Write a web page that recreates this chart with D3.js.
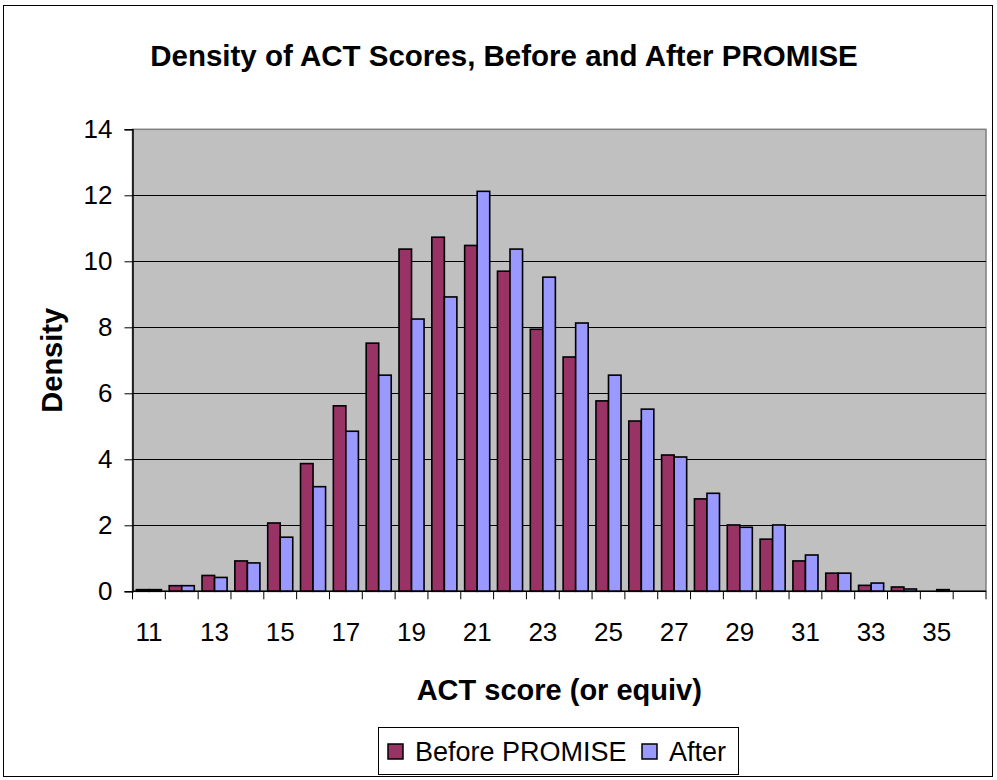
<!DOCTYPE html>
<html>
<head>
<meta charset="utf-8">
<script src="https://cdn.jsdelivr.net/npm/d3@7"></script>
<style>
  body { margin: 0; background: #fff; }
  text { font-family: Arial, "Liberation Sans", sans-serif; fill: #000; }
</style>
</head>
<body>
<svg id="chart" width="997" height="780"></svg>
<script>
// ACT scores 11..36
var scores = d3.range(11, 37);
var tickLabels = [11, 13, 15, 17, 19, 21, 23, 25, 27, 29, 31, 33, 35];
var seriesNames = ["Before PROMISE", "After"];
var before = [0.05, 0.17, 0.48, 0.92, 2.07, 3.87, 5.62, 7.52, 10.37, 10.73, 10.48, 9.70, 7.94, 7.10,
              5.77, 5.16, 4.13, 2.80, 2.01, 1.58, 0.92, 0.55, 0.18, 0.13, 0.0, 0.0];
var after  = [0.05, 0.17, 0.42, 0.86, 1.64, 3.17, 4.85, 6.55, 8.25, 8.92, 12.12, 10.37, 9.52, 8.13,
              6.55, 5.52, 4.07, 2.97, 1.94, 2.01, 1.10, 0.55, 0.25, 0.07, 0.05, 0.0];
var colors = ["#993366", "#9999FF"];

var svg = d3.select("#chart");
var plotL = 132.5, plotR = 986, plotT = 129.3, plotB = 591.3;

// outer chart border
svg.append("rect")
    .attr("x", 3.5).attr("y", 5.5)
    .attr("width", 989).attr("height", 771)
    .style("fill", "#fff").style("stroke", "#000").style("stroke-width", 1);

var x = d3.scaleBand().domain(scores).range([plotL, plotR]).paddingInner(0).paddingOuter(0);
var inner = d3.scaleBand().domain([0, 1]).range([0, x.bandwidth()]).paddingInner(0).paddingOuter(0.31);
var y = d3.scaleLinear().domain([0, 14]).range([plotB, plotT]);

// plot area
svg.append("rect")
    .attr("x", plotL).attr("y", plotT)
    .attr("width", plotR - plotL).attr("height", plotB - plotT)
    .style("fill", "#C0C0C0").style("stroke", "#808080").style("stroke-width", 1.5);

// gridlines
svg.append("g").selectAll("line")
    .data(d3.range(2, 14, 2))
    .join("line")
    .attr("x1", plotL).attr("x2", plotR)
    .attr("y1", function (d) { return Math.round(y(d)) + 0.5; })
    .attr("y2", function (d) { return Math.round(y(d)) + 0.5; })
    .style("stroke", "#000").style("stroke-width", 1);

// bars
var rows = scores.map(function (s, i) { return { score: s, vals: [before[i], after[i]] }; });
var groups = svg.append("g").selectAll("g")
    .data(rows)
    .join("g")
    .attr("transform", function (d) { return "translate(" + x(d.score) + ",0)"; });

groups.selectAll("rect")
    .data(function (d) {
        return d.vals.map(function (v, k) { return { k: k, v: v }; })
            .filter(function (e) { return e.v > 0; });
    })
    .join("rect")
    .attr("x", function (d) { return inner(d.k); })
    .attr("width", inner.bandwidth())
    .attr("y", function (d) { return y(d.v); })
    .attr("height", function (d) { return y(0) - y(d.v); })
    .style("fill", function (d) { return colors[d.k]; })
    .style("stroke", "#000").style("stroke-width", 1.6);

// y axis
var yAxis = svg.append("g")
    .attr("transform", "translate(" + plotL + ",0)")
    .call(d3.axisLeft(y).tickValues(d3.range(0, 15, 2)).tickSize(8).tickPadding(12));
yAxis.select(".domain").style("stroke", "#000").style("stroke-width", 1.5);
yAxis.selectAll(".tick line").style("stroke", "#000");
yAxis.selectAll("text").style("font-size", "26px").style("font-family", "Arial, 'Liberation Sans', sans-serif");

// x axis
var xTicks = scores.concat([37]);
var xAxis = svg.append("g").attr("transform", "translate(0," + plotB + ")");
xAxis.append("line")
    .attr("x1", plotL).attr("x2", plotR).attr("y1", 0).attr("y2", 0)
    .style("stroke", "#000").style("stroke-width", 1.5);
xAxis.selectAll("line.tk")
    .data(xTicks)
    .join("line")
    .attr("class", "tk")
    .attr("x1", function (d, i) { return plotL + i * x.bandwidth(); })
    .attr("x2", function (d, i) { return plotL + i * x.bandwidth(); })
    .attr("y1", 0).attr("y2", 8)
    .style("stroke", "#000");
xAxis.selectAll("text")
    .data(tickLabels)
    .join("text")
    .attr("x", function (d) { return x(d) + x.bandwidth() / 2; })
    .attr("y", 50)
    .attr("text-anchor", "middle")
    .style("font-size", "26px")
    .text(function (d) { return d; });

// titles
svg.append("text")
    .attr("x", 504).attr("y", 66)
    .attr("text-anchor", "middle")
    .style("font-size", "29.5px").style("font-weight", "bold")
    .text("Density of ACT Scores, Before and After PROMISE");

svg.append("text")
    .attr("x", (plotL + plotR) / 2).attr("y", 700)
    .attr("text-anchor", "middle")
    .style("font-size", "29px").style("font-weight", "bold")
    .text("ACT score (or equiv)");

svg.append("text")
    .attr("transform", "translate(62," + ((plotT + plotB) / 2) + ") rotate(-90)")
    .attr("text-anchor", "middle")
    .style("font-size", "29px").style("font-weight", "bold")
    .text("Density");

// legend
var legend = svg.append("g");
legend.append("rect")
    .attr("x", 378.5).attr("y", 727.5)
    .attr("width", 360).attr("height", 47)
    .style("fill", "#fff").style("stroke", "#000").style("stroke-width", 1);
var legX = [388, 642];
var items = legend.selectAll("g.item")
    .data(seriesNames)
    .join("g")
    .attr("class", "item")
    .attr("transform", function (d, i) { return "translate(" + legX[i] + ",744)"; });
items.append("rect")
    .attr("width", 15).attr("height", 15)
    .style("fill", function (d, i) { return colors[i]; })
    .style("stroke", "#000").style("stroke-width", 1.5);
items.append("text")
    .attr("x", 27).attr("y", 17)
    .style("font-size", "27px")
    .text(function (d) { return d; });
</script>
</body>
</html>
